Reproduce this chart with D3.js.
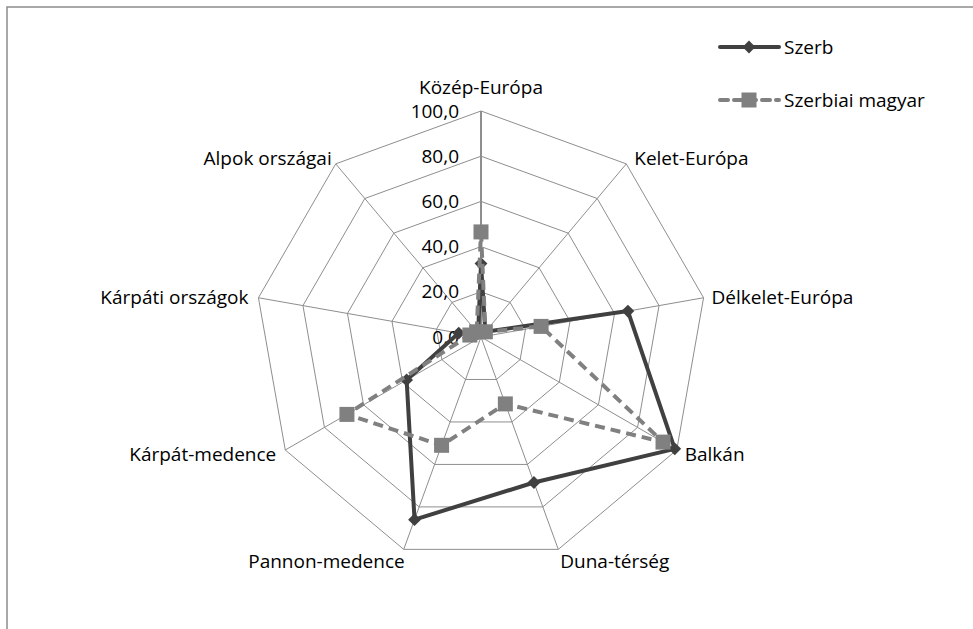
<!DOCTYPE html>
<html>
<head>
<meta charset="utf-8">
<script src="https://cdn.jsdelivr.net/npm/d3@7"></script>
<style>
  body { margin: 0; background: #fff; }
  svg text { font-family: "Open Sans", sans-serif; font-size: 19px; fill: #000; }
</style>
</head>
<body>
<svg id="chart" width="973" height="629"></svg>
<script>
var categories = ["Közép-Európa", "Kelet-Európa", "Délkelet-Európa", "Balkán", "Duna-térség",
                  "Pannon-medence", "Kárpát-medence", "Kárpáti országok", "Alpok országai"];
var szerb = [32.5, 3, 66, 99, 68.5, 86, 38, 10, 2];
var magyar = [46.5, 3, 27, 93, 31.5, 51, 68.5, 5, 3];
var seriesNames = ["Szerb", "Szerbiai magyar"];
var ticks = [0, 20, 40, 60, 80, 100];

var svg = d3.select("#chart");
var cx = 481, cy = 337, R = 226;
var n = categories.length;

// frame
svg.append("rect").attr("x", 7).attr("y", 7).attr("width", 1000).attr("height", 700)
  .attr("fill", "none").attr("stroke", "#8c8c8c").attr("stroke-width", 1.5);

var r = d3.scaleLinear().domain([0, 100]).range([0, R]);
var angle = function(i) { return i * 2 * Math.PI / n; };
function pt(i, v) {
  return [cx + r(v) * Math.sin(angle(i)), cy - r(v) * Math.cos(angle(i))];
}

// grid rings
ticks.slice(1).forEach(function(t) {
  var pts = d3.range(n).map(function(i) { return pt(i, t); });
  svg.append("path").attr("d", d3.line()(pts) + "Z")
    .attr("fill", "none").attr("stroke", "#8e8e8e").attr("stroke-width", 1);
});
// spokes
d3.range(n).forEach(function(i) {
  var p = pt(i, 100);
  svg.append("line").attr("x1", cx).attr("y1", cy).attr("x2", p[0]).attr("y2", p[1])
    .attr("stroke", "#8e8e8e").attr("stroke-width", i === 0 ? 2 : 1);
});

// tick labels
ticks.forEach(function(t) {
  svg.append("text").attr("x", 459).attr("y", cy - r(t)).attr("dy", "0.35em")
    .attr("text-anchor", "end").text(d3.format(".1f")(t).replace(".", ","));
});

// category labels
var labelPos = [
  {dx: 0, dy: -24, anchor: "middle"},
  {dx: 8, dy: -6, anchor: "start"},
  {dx: 8, dy: 0, anchor: "start"},
  {dx: 8, dy: 4, anchor: "start"},
  {dx: 2, dy: 12, anchor: "start"},
  {dx: 1, dy: 12, anchor: "end"},
  {dx: -9, dy: 4, anchor: "end"},
  {dx: -10, dy: 0, anchor: "end"},
  {dx: -4, dy: -6, anchor: "end"}
];
categories.forEach(function(c, i) {
  var p = pt(i, 100);
  svg.append("text").attr("x", p[0] + labelPos[i].dx).attr("y", p[1] + labelPos[i].dy)
    .attr("dy", "0.35em").attr("text-anchor", labelPos[i].anchor).text(c);
});

var lineGen = d3.line();
function drawSeries(vals, color, dash, marker) {
  var pts = vals.map(function(v, i) { return pt(i, v); });
  svg.append("path").attr("d", lineGen(pts) + "Z").attr("fill", "none")
    .attr("stroke", color).attr("stroke-width", 4).attr("stroke-dasharray", dash)
    .attr("stroke-linejoin", "round");
  pts.forEach(function(p) { marker(p[0], p[1]); });
}
function diamond(x, y) {
  svg.append("path").attr("d", d3.symbol(d3.symbolDiamond2, 105)())
    .attr("transform", "translate(" + x + "," + y + ")").attr("fill", "#404040");
}
function square(x, y) {
  svg.append("rect").attr("x", x - 7.5).attr("y", y - 7.5).attr("width", 15).attr("height", 15)
    .attr("fill", "#808080");
}

drawSeries(szerb, "#404040", null, diamond);
drawSeries(magyar, "#808080", "10,6", square);

// legend
var lg = [{y: 47, color: "#404040", dash: null, marker: diamond},
          {y: 100, color: "#808080", dash: "8,6", marker: square}];
lg.forEach(function(l, k) {
  svg.append("line").attr("x1", 720).attr("x2", 779).attr("y1", l.y).attr("y2", l.y)
    .attr("stroke", l.color).attr("stroke-width", 4).attr("stroke-dasharray", l.dash)
    .attr("stroke-linecap", "round");
  l.marker(749, l.y);
  svg.append("text").attr("x", 784).attr("y", l.y).attr("dy", "0.35em").text(seriesNames[k]);
});
</script>
</body>
</html>
